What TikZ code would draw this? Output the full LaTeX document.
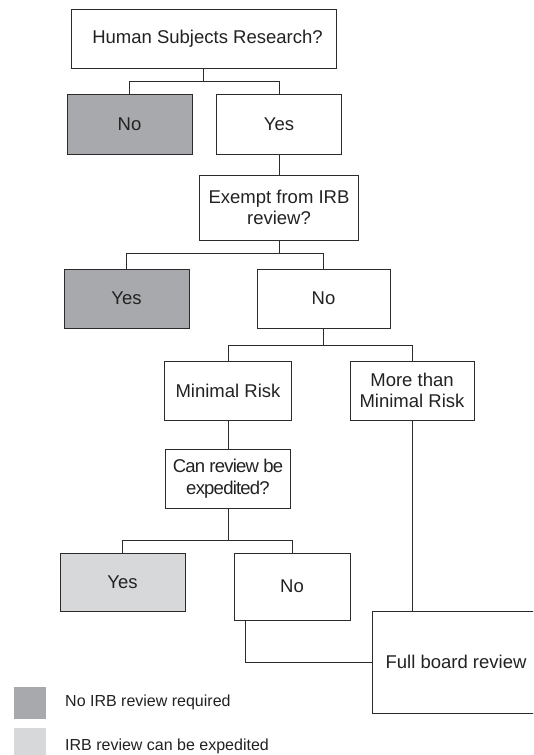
\documentclass[tikz,border=0pt]{standalone}
\usepackage{fontspec}
\setmainfont{Liberation Sans}
\definecolor{linecol}{HTML}{2B2B2B}
\definecolor{txtcol}{HTML}{222222}
\definecolor{darkfill}{HTML}{A8A9AC}
\definecolor{lightfill}{HTML}{D7D8DA}
\tikzset{
  box/.style={draw=linecol, line width=0.9pt, inner sep=0pt, align=center,
    text=txtcol, font=\fontsize{18.5}{21.5}\selectfont},
  conn/.style={draw=linecol, line width=0.9pt},
  legtext/.style={anchor=west, inner sep=0pt, text=txtcol, font=\fontsize{16}{19}\selectfont},
  legsq/.style={fill=#1, draw=none, inner sep=0pt, minimum width=32pt, minimum height=32pt}
}
\begin{document}
\begin{tikzpicture}[x=1pt,y=-1pt]
\path[use as bounding box] (0,0) rectangle (533,755);
\clip (0,0) rectangle (533,755);
\fill[white] (0,0) rectangle (533,755);

\node[box, minimum width=265pt, minimum height=59pt] (top) at (203.5,38.5) {\hspace*{8pt}Human Subjects Research?};
\node[box, fill=darkfill, minimum width=125pt, minimum height=60pt] (no1) at (129.5,124) {No};
\node[box, minimum width=125pt, minimum height=60pt] (yes1) at (279,124) {Yes};
\node[box, minimum width=159pt, minimum height=65pt] (exempt) at (279,207.5) {Exempt from IRB\\review?};
\node[box, fill=darkfill, minimum width=125pt, minimum height=59pt] (yes2) at (126.5,298.5) {Yes};
\node[box, minimum width=133pt, minimum height=59pt] (no2) at (323.5,298.5) {No};
\node[box, minimum width=127pt, minimum height=59pt] (minimal) at (228,390.5) {Minimal Risk};
\node[box, minimum width=124pt, minimum height=59pt] (more) at (412,390.5) {More than\\Minimal Risk};
\node[box, minimum width=125pt, minimum height=59pt] (canrev) at (228,478.5) {\addfontfeatures{LetterSpace=-4.2}Can review be\\\addfontfeatures{LetterSpace=-4.2}expedited?};
\node[box, fill=lightfill, minimum width=125pt, minimum height=58pt] (yes3) at (122.5,582) {Yes};
\node[box, minimum width=116pt, minimum height=67pt] (no3) at (292,586.5) {No};
\node[box, minimum width=168pt, minimum height=102pt] (full) at (456,662) {Full board review};

\draw[conn] (top.south) -- ++(0,13) -| (no1.north);
\draw[conn] (top.south) -- ++(0,13) -| (yes1.north);
\draw[conn] (yes1.south) -- (exempt.north);
\draw[conn] (exempt.south) -- ++(0,13) -| (yes2.north);
\draw[conn] (exempt.south) -- ++(0,13) -| (no2.north);
\draw[conn] (no2.south) -- ++(0,17) -| (minimal.north);
\draw[conn] (no2.south) -- ++(0,17) -| (more.north);
\draw[conn] (minimal.south) -- (canrev.north);
\draw[conn] (canrev.south) -- ++(0,32) -| (yes3.north);
\draw[conn] (canrev.south) -- ++(0,32) -| (no3.north);
\draw[conn] ([xshift=12pt]no3.south west) |- (full.west);
\draw[conn] (more.south) -- (more.south |- full.north);

\node[legsq=darkfill] (lsq1) at (30,703) {};
\node[legsq=lightfill] (lsq2) at (30,744) {};
\node[legtext] (lt1) at (65,702) {No IRB review required};
\node[legtext] (lt2) at (65,746) {IRB review can be expedited};
\end{tikzpicture}
\end{document}
